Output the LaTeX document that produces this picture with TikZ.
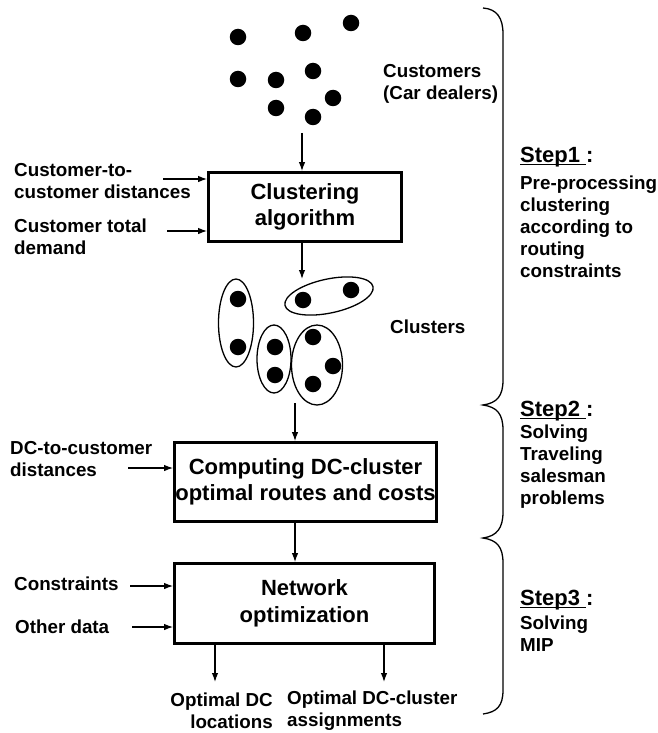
\documentclass[tikz,border=0pt]{standalone}
\usepackage{fontspec}
\setmainfont{Liberation Sans}
\usetikzlibrary{arrows.meta,shapes.geometric}
\newcommand\myul[1]{\setbox0\hbox{#1}\rlap{\rule[-3pt]{\wd0}{1.6pt}}\box0}
\begin{document}
\begin{tikzpicture}[x=1pt,y=-1pt,
  lbl/.style={font=\bfseries\fontsize{18.8}{22}\selectfont, inner sep=0pt, align=left},
  stephead/.style={font=\bfseries\fontsize{22}{24}\selectfont, inner sep=0pt, anchor=west},
  procbox/.style={draw, line width=2.8pt, font=\bfseries\fontsize{22}{26.5}\selectfont, align=center, inner sep=0pt},
  arr/.style={line width=1.2pt, -{Latex[length=9pt,width=6.5pt]}},
  dot/.style={circle, fill=black, minimum size=16.5pt, inner sep=0pt},
  clus/.style={draw, ellipse, line width=1.3pt, inner sep=0pt},
  brace/.style={line width=1.3pt}]
\useasboundingbox (0,0) rectangle (657,733);

% customers
\node[dot] (d1) at (238,37) {};
\node[dot] (d2) at (303,33) {};
\node[dot] (d3) at (351,23) {};
\node[dot] (d4) at (238,79) {};
\node[dot] (d5) at (276,80) {};
\node[dot] (d6) at (313,71) {};
\node[dot] (d7) at (276,108) {};
\node[dot] (d8) at (333,98) {};
\node[dot] (d9) at (313,117) {};
\node[lbl, anchor=west] (cust) at (383,84) {Customers\\(Car dealers)};

% clustering box
\node[procbox, minimum width=193pt, minimum height=69pt] (clb) at (305,207) {Clustering\\algorithm};
\node[lbl, anchor=west] (in1) at (14,181) {Customer-to-\\customer distances};
\node[lbl, anchor=west] (in2) at (14,237) {Customer total\\demand};
\coordinate (in1e) at (163,179);
\coordinate (in2e) at (167,231);
\draw[arr] (in1e) -- (in1e -| clb.west);
\draw[arr] (in2e) -- (in2e -| clb.west);
\coordinate (ca) at (302,133);
\draw[arr] (ca) -- (ca |- clb.north);

% clusters
\node[clus, minimum width=35pt, minimum height=88pt] (e1) at (236,323) {};
\node[clus, minimum width=90pt, minimum height=34pt, rotate=12] (e2) at (329,296) {};
\node[clus, minimum width=34pt, minimum height=68pt] (e3) at (274,359) {};
\node[clus, minimum width=51pt, minimum height=80pt] (e4) at (317,365) {};
\node[dot] (c1) at (238,299) {};
\node[dot] (c2) at (238,347) {};
\node[dot] (c3) at (303,300) {};
\node[dot] (c4) at (351,290) {};
\node[dot] (c5) at (275,347) {};
\node[dot] (c6) at (275,375) {};
\node[dot] (c7) at (313,337) {};
\node[dot] (c8) at (333,366) {};
\node[dot] (c9) at (313,384) {};
\node[lbl, anchor=west] (clab) at (390,327) {Clusters};
\coordinate (ct) at (302,279);
\draw[arr] (clb.south -| ct) -- (ct);

% computing box
\node[procbox, minimum width=262pt, minimum height=79pt] (cmp) at (305.5,482) {Computing DC-cluster\\optimal routes and costs};
\coordinate (cs) at (295,403);
\draw[arr] (cs) -- (cs |- cmp.north);
\node[lbl, anchor=west] (in3) at (10,459) {DC-to-customer\\distances};
\coordinate (in3e) at (128,468);
\draw[arr] (in3e) -- (in3e -| cmp.west);

% network box
\node[procbox, minimum width=260pt, minimum height=80pt] (net) at (304.5,603.5) {Network\\optimization};
\coordinate (ns) at (295,562);
\draw[arr] (cmp.south -| ns) -- (ns |- net.north);
\node[lbl, anchor=west] (in4) at (14,584) {Constraints};
\node[lbl, anchor=west] (in5) at (15,627) {Other data};
\coordinate (in4e) at (130,586);
\coordinate (in5e) at (132,627);
\draw[arr] (in4e) -- (in4e -| net.west);
\draw[arr] (in5e) -- (in5e -| net.west);

% outputs
\node[lbl, anchor=east, align=right] (o1) at (273,711) {Optimal DC\\locations};
\node[lbl, anchor=west] (o2) at (287,711) {Optimal DC-cluster\\assignments};
\coordinate (o1t) at (215,682);
\coordinate (o2t) at (384,682);
\draw[arr] (net.south -| o1t) -- (o1t);
\draw[arr] (net.south -| o2t) -- (o2t);

% braces
\draw[brace] (483,8) .. controls (497,9) and (503,18) .. (503,34) -- (503,380)
  .. controls (503,396) and (497,403) .. (483,405)
  .. controls (497,407) and (503,414) .. (503,430) -- (503,512)
  .. controls (503,528) and (497,536) .. (483,538)
  .. controls (497,540) and (503,547) .. (503,563) -- (503,690)
  .. controls (503,706) and (497,712) .. (483,714);

% steps
\node[stephead] (s1) at (520,157) {\myul{Step1\ }:};
\node[lbl, anchor=west] (s1d) at (520,226.5) {Pre-processing\\clustering\\according to\\routing\\constraints};
\node[stephead] (s2) at (520,411) {\myul{Step2\ }:};
\node[lbl, anchor=west] (s2d) at (520,467) {Solving\\Traveling\\salesman\\problems};
\node[stephead] (s3) at (520,600) {\myul{Step3\ }:};
\node[lbl, anchor=west] (s3d) at (520,634) {Solving\\MIP};
\end{tikzpicture}
\end{document}
